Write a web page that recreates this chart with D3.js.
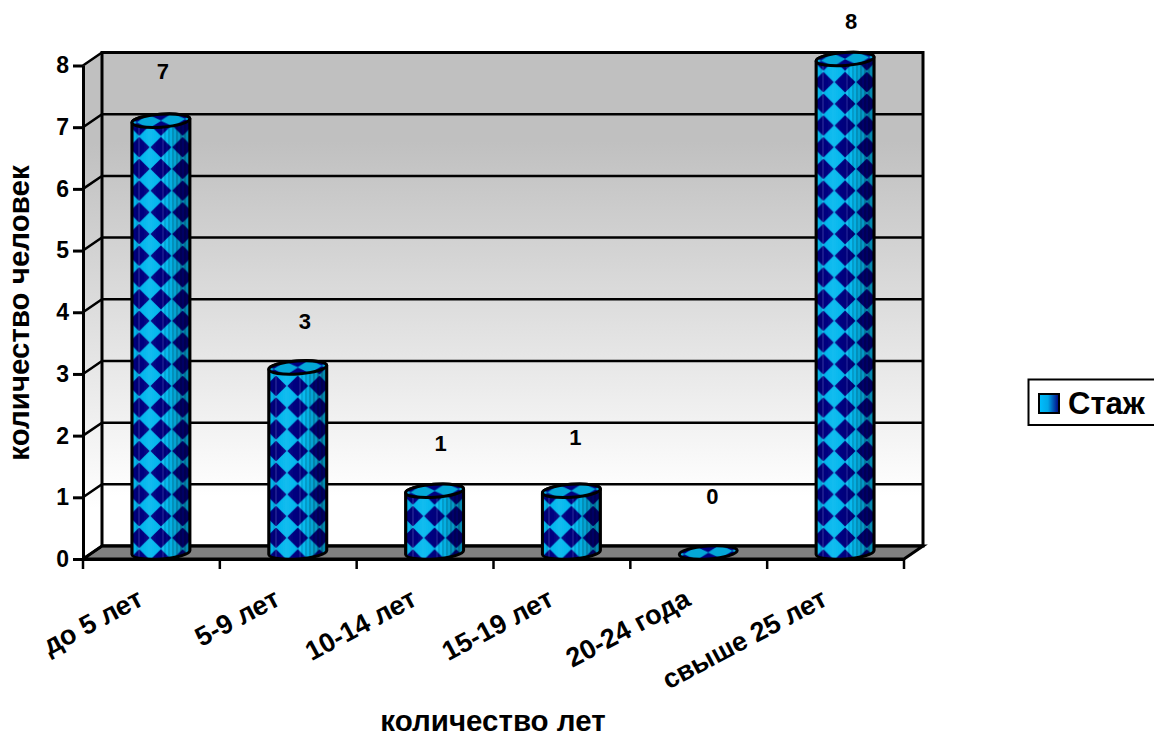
<!DOCTYPE html>
<html lang="ru">
<head>
    <meta charset="UTF-8">
    <title>Стаж</title>
    <script src="https://d3js.org/d3.v7.min.js"></script>
    <style>
        html, body { margin: 0; padding: 0; background: #fff; overflow: hidden; }
        svg { display: block; }
        text { font-family: "Liberation Sans", Arial, sans-serif; font-weight: bold; fill: #000; }
        .tick text { font-size: 23px; }
        .label { font-size: 22px; text-anchor: middle; }
    </style>
</head>
<body>
    <svg width="1154" height="738"></svg>
    <script>
        const categories = ["до 5 лет", "5-9 лет", "10-14 лет", "15-19 лет", "20-24 года", "свыше 25 лет"];
        const values = [7, 3, 1, 1, 0, 8];
        const yTicks = [0, 1, 2, 3, 4, 5, 6, 7, 8];
        const seriesName = "Стаж";
        const xTitle = "количество лет";
        const yTitle = "количество человек";

        const svg = d3.select("svg");
        const defs = svg.append("defs");

        // front plane of the 3d box, the back wall is shifted by depth
        const plotLeft = 83, plotRight = 904, plotTop = 65.5, plotBottom = 559;
        const depth = { x: 19, y: -13 };

        const x = d3.scaleBand().domain(categories).range([plotLeft, plotRight]);
        const y = d3.scaleLinear().domain([0, 8]).range([plotBottom, plotTop]);

        const wallGrad = defs.append("linearGradient").attr("id", "wall")
            .attr("x1", 0).attr("y1", 0).attr("x2", 0).attr("y2", 1);
        wallGrad.append("stop").attr("offset", "0%").attr("stop-color", "#c0c0c0");
        wallGrad.append("stop").attr("offset", "18%").attr("stop-color", "#c0c0c0");
        wallGrad.append("stop").attr("offset", "90%").attr("stop-color", "#ffffff");

        // side wall
        svg.append("path")
            .attr("d", `M${plotLeft},${y(8)}L${plotLeft + depth.x},${y(8) + depth.y}L${plotLeft + depth.x},${y(0) + depth.y}L${plotLeft},${y(0)}Z`)
            .attr("fill", "url(#wall)").attr("stroke", "none");

        // back wall
        svg.append("rect")
            .attr("x", plotLeft + depth.x).attr("y", y(8) + depth.y)
            .attr("width", plotRight - plotLeft).attr("height", y(0) - y(8))
            .attr("fill", "url(#wall)").attr("stroke", "#000").attr("stroke-width", 3);

        // floor
        svg.append("path")
            .attr("d", `M${plotLeft},${y(0)}L${plotLeft + depth.x},${y(0) + depth.y}L${plotRight + depth.x},${y(0) + depth.y}L${plotRight},${y(0)}Z`)
            .attr("fill", "#808080").attr("stroke", "#000").attr("stroke-width", 3);

        // grid lines on both walls
        const grid = svg.append("g").attr("stroke", "#000").attr("stroke-width", 2.5).attr("fill", "none");
        grid.selectAll("path").data(yTicks).enter().append("path")
            .attr("d", d => `M${plotLeft},${y(d)}L${plotLeft + depth.x},${y(d) + depth.y}L${plotRight + depth.x},${y(d) + depth.y}`);

        // axes
        const yAxis = svg.append("g")
            .attr("transform", `translate(${plotLeft},0)`)
            .call(d3.axisLeft(y).tickValues(yTicks).tickSize(10).tickPadding(4).tickSizeOuter(0));
        const xAxis = svg.append("g")
            .attr("transform", `translate(0,${plotBottom})`)
            .call(d3.axisBottom(x).tickSize(0).tickPadding(0));
        [yAxis, xAxis].forEach(a => a.selectAll("path, line").attr("stroke", "#000").attr("stroke-width", 3));
        xAxis.selectAll(".tick text")
            .style("font-size", "27px")
            .attr("transform", "translate(-11,37) rotate(-28)")
            .attr("text-anchor", "end")
            .attr("dy", "0.35em")
            .attr("x", 0).attr("y", 0);
        xAxis.append("g").selectAll("line").data(d3.range(categories.length + 1)).enter().append("line")
            .attr("x1", d => plotLeft + d * x.step()).attr("x2", d => plotLeft + d * x.step())
            .attr("y1", 0).attr("y2", 10)
            .attr("stroke", "#000").attr("stroke-width", 2.5);

        // diamond fill for the cylinders
        const barW = 58, ry = 6.5, tile = 21.7, tilt = -4;
        const cx = d => x(d) + x.bandwidth() / 2 + depth.x / 2;
        const cyBase = y(0) + depth.y / 2;
        const barH = v => y(0) - y(v);

        defs.append("filter").attr("id", "soft")
            .append("feGaussianBlur").attr("stdDeviation", 0.7);

        function addPattern(id, tx, ty, w, h, base) {
            const p = defs.append("pattern").attr("id", id)
                .attr("patternUnits", "userSpaceOnUse")
                .attr("width", w).attr("height", h)
                .attr("patternTransform", `translate(${tx},${ty})`);
            p.append("rect").attr("width", w).attr("height", h).attr("fill", base);
            const m = 0.02;
            p.append("path")
                .attr("d", `M${w / 2},${h * m}L${w * (1 - m)},${h / 2}L${w / 2},${h * (1 - m)}L${w * m},${h / 2}Z`)
                .attr("fill", "#000080").attr("filter", "url(#soft)");
        }

        // the cylinder is shaded in thin vertical strips, finer toward the right
        const shadeAt = d3.scaleLinear()
            .domain([0, 0.1, 0.28, 0.5, 0.75, 1])
            .range([-0.22, -0.04, 0.06, -0.04, -0.28, -0.45]);
        const shade = defs.append("linearGradient").attr("id", "shade")
            .attr("x1", 0).attr("y1", 0).attr("x2", 1).attr("y2", 0);
        const strips = 29;
        d3.range(strips).forEach(k => {
            const t = k / strips;
            let a = shadeAt(t);
            if (k % 2 && (t < 0.15 || t > 0.5)) a += 0.14;
            [t, (k + 1) / strips].forEach(o => {
                shade.append("stop").attr("offset", o)
                    .attr("stop-color", a < 0 ? "#000" : "#fff")
                    .attr("stop-opacity", Math.abs(a));
            });
        });

        const bars = svg.append("g").selectAll("g").data(categories).enter().append("g");
        bars.each(function(c, i) {
            const g = d3.select(this);
            const v = values[i];
            const mid = cx(c);
            const rx = barW / 2;
            const h = barH(v);
            const topY = cyBase - h;
            const lift = rx * Math.sin(-tilt * Math.PI / 180);
            addPattern("diamonds" + i, mid - tile / 2, cyBase - 25.5, tile, tile, "#04b8ee");
            addPattern("cap" + i, mid - 12, topY - 6.5 - 6.5, 24, 13, "#04a8d8");

            if (v > 0) {
                const body = `M${mid - rx},${topY + lift}A${rx},${ry} ${tilt} 0 1 ${mid + rx},${topY - lift}`
                    + `L${mid + rx},${cyBase - lift}A${rx},${ry} ${tilt} 0 1 ${mid - rx},${cyBase + lift}Z`;
                g.append("path").attr("d", body).attr("fill", `url(#diamonds${i})`);
                g.append("path").attr("d", body).attr("fill", "url(#shade)");
                g.append("path").attr("d", body).attr("fill", "none").attr("stroke", "#000").attr("stroke-width", 3);
            }
            g.append("ellipse").attr("cx", mid).attr("cy", topY).attr("rx", rx).attr("ry", ry)
                .attr("transform", `rotate(${tilt} ${mid} ${topY})`)
                .attr("fill", `url(#cap${i})`).attr("stroke", "#000").attr("stroke-width", 3);
        });

        // data labels sit a bit off their bars in the original
        const labelShift = [[2, -49], [7, -46], [6, -48], [4, -54], [4, -56], [6, -38]];
        svg.append("g").selectAll("text").data(categories).enter().append("text")
            .attr("class", "label")
            .attr("x", (c, i) => cx(c) + labelShift[i][0])
            .attr("y", (c, i) => cyBase - barH(values[i]) + labelShift[i][1])
            .attr("dy", "0.35em")
            .text((c, i) => values[i]);

        // titles
        svg.append("text")
            .attr("x", 493).attr("y", 731)
            .attr("text-anchor", "middle").style("font-size", "29.5px").text(xTitle);
        svg.append("text")
            .attr("transform", "translate(29,313) rotate(-90)")
            .attr("text-anchor", "middle").style("font-size", "29.5px").text(yTitle);

        // legend
        const legend = svg.append("g");
        legend.append("rect").attr("x", 1028.5).attr("y", 379.5).attr("width", 140).attr("height", 45.5)
            .attr("fill", "#fff").attr("stroke", "#000").attr("stroke-width", 2);
        const keyGrad = defs.append("linearGradient").attr("id", "key")
            .attr("x1", 0).attr("y1", 0).attr("x2", 1).attr("y2", 0);
        keyGrad.append("stop").attr("offset", "0%").attr("stop-color", "#00c0ff");
        keyGrad.append("stop").attr("offset", "45%").attr("stop-color", "#00a8e8");
        keyGrad.append("stop").attr("offset", "100%").attr("stop-color", "#000080");
        legend.append("rect").attr("x", 1039).attr("y", 394).attr("width", 20).attr("height", 19)
            .attr("fill", "url(#key)").attr("stroke", "#000").attr("stroke-width", 2);
        legend.append("text").attr("x", 1068).attr("y", 414).style("font-size", "31px").text(seriesName);
    </script>
</body>
</html>
